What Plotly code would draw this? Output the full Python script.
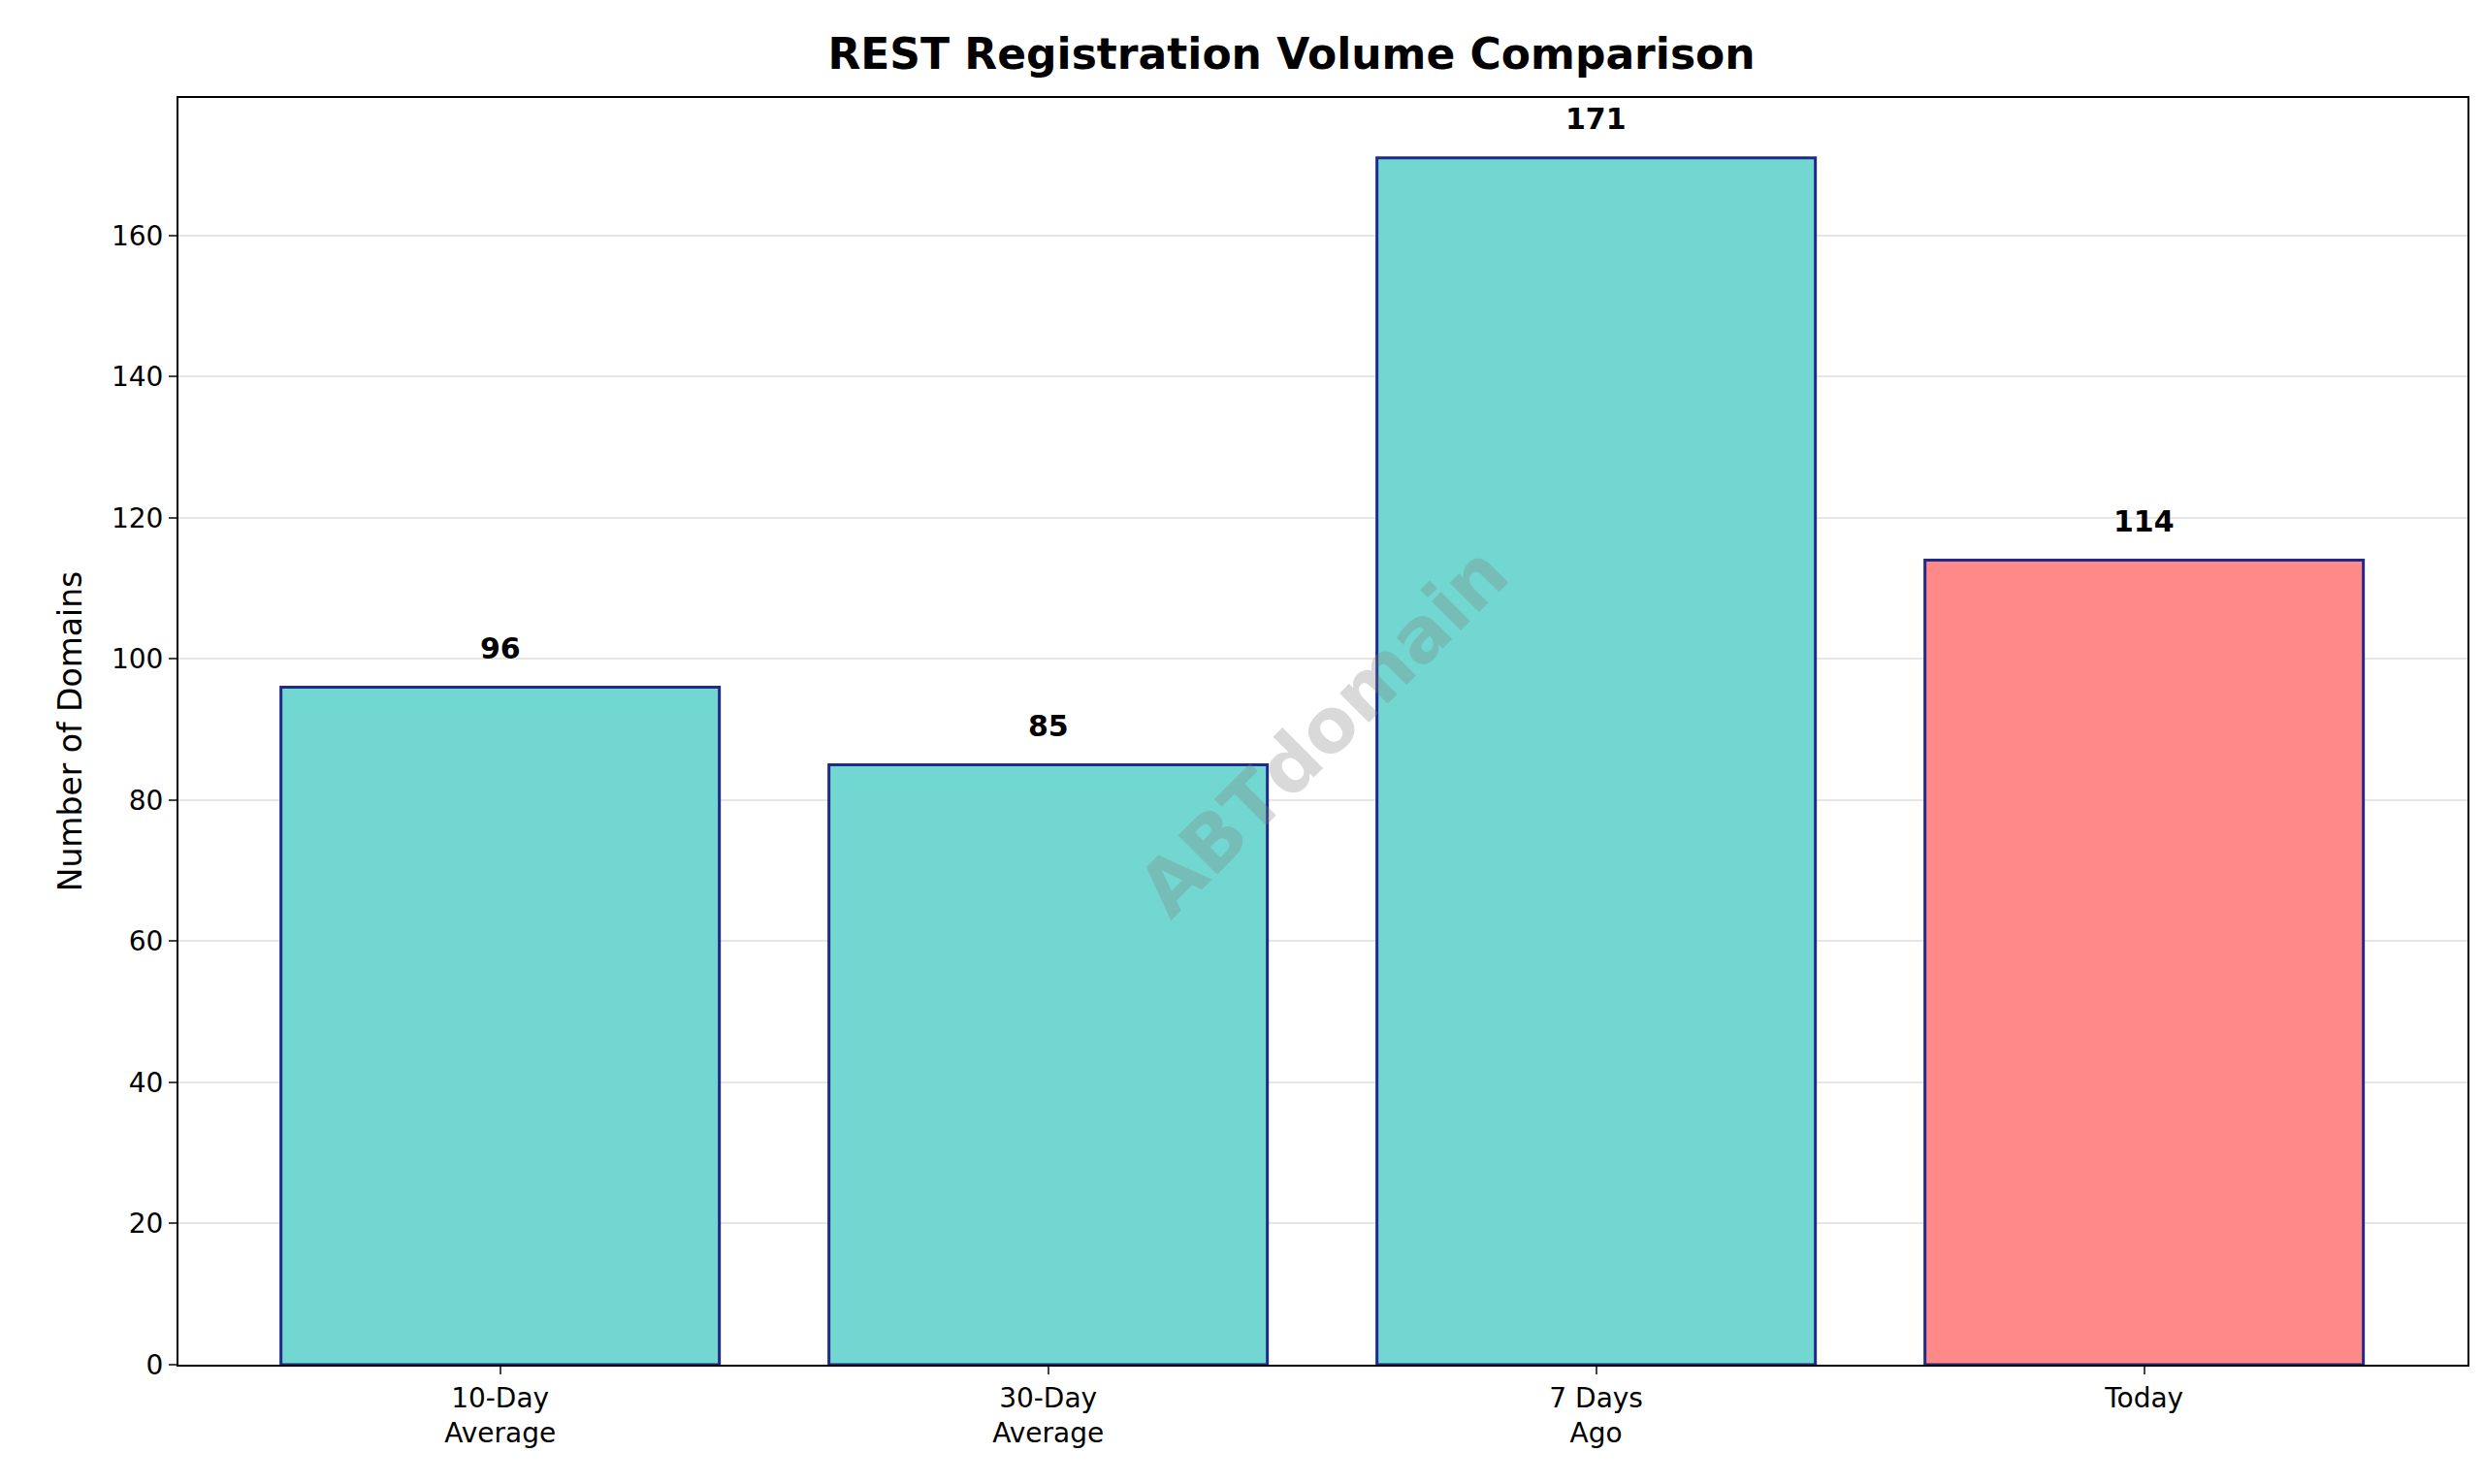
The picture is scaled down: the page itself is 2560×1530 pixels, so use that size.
import plotly.graph_objects as go

categories = ["10-Day<br>Average", "30-Day<br>Average", "7 Days<br>Ago", "Today"]
values = [96, 85, 171, 114]
colors = ["#72D7D0", "#72D7D0", "#72D7D0", "#FF8989"]

fig = go.Figure(go.Bar(
    x=list(range(len(categories))), y=values, width=0.8,
    marker=dict(color=colors, line=dict(color="#1f2a8a", width=3)),
))
for i, v in enumerate(values):
    fig.add_annotation(x=i, y=v, text=f"<b>{v}</b>", showarrow=False, yshift=40,
                       font=dict(size=30, color="black", family="DejaVu Sans"))
fig.add_annotation(x=0.5, y=0.5, xref="paper", yref="paper", text="<b>ABTdomain</b>",
                   showarrow=False, textangle=-45,
                   font=dict(size=78, color="rgba(128,128,128,0.3)", family="DejaVu Sans"))
fig.update_layout(
    width=2560, height=1530, paper_bgcolor="white", plot_bgcolor="white",
    margin=dict(l=176, r=24, t=93, b=131),
    title=dict(text="<b>REST Registration Volume Comparison</b>", x=0.517, xanchor="center",
               y=0.979, yanchor="top", font=dict(size=44, color="black", family="DejaVu Sans")),
    font=dict(family="DejaVu Sans", color="black"),
    showlegend=False,
)
fig.update_xaxes(range=[-0.587, 3.59], tickvals=list(range(4)), ticktext=categories,
                 tickfont=dict(size=28), showline=True, linecolor="black", linewidth=2,
                 mirror=True, ticks="outside", ticklen=8, tickwidth=2, showgrid=False)
fig.update_yaxes(range=[0, 179.5], dtick=20, tickfont=dict(size=28), showline=True,
                 linecolor="black", linewidth=2, mirror=True, ticks="outside", ticklen=8,
                 tickwidth=2, showgrid=True, gridcolor="#e6e6e6", gridwidth=2, zeroline=False,
                 title=dict(text="Number of Domains", font=dict(size=33), standoff=20))
fig.write_html("out.html")
